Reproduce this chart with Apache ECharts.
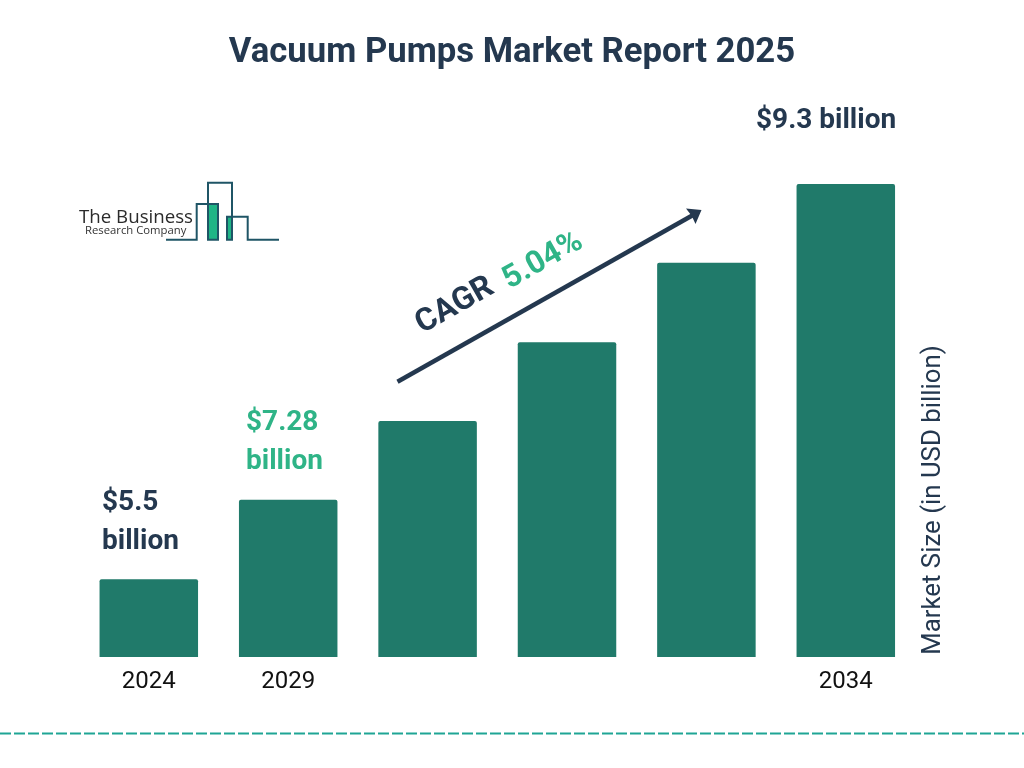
<!DOCTYPE html>
<html><head><meta charset="utf-8">
<style>html,body{margin:0;padding:0;background:#fff}#c{width:1024px;height:768px}</style>
<script src="https://cdn.jsdelivr.net/npm/echarts@6/dist/echarts.min.js"></script>
</head><body><div id="c"></div>
<script>
const categories = ['2024','2029','','','','2034'];
// bars as drawn (evenly stepped in the picture), read against the 2034 value
const drawnValues = [1.53,3.09,4.64,6.19,7.75,9.3];
const titleText = 'Vacuum Pumps Market Report 2025';
const yAxisName = 'Market Size (in USD billion)';
const navy='#24384f', green='#2fb487', barColor='#207a6a', logoLine='#1f5566', logoGreen='#1fb586';
const F='Roboto';
function txt(x,y,text,size,weight,fill,extra){
  return Object.assign({type:'text',x:x,y:y,silent:true,style:{text:text,font:weight+' '+size+'px '+F,fill:fill,align:'left',verticalAlign:'middle'}},extra||{});
}
function center(o,lh){o.style.align='center';if(lh)o.style.lineHeight=lh;return o;}
function left(o,lh){o.style.lineHeight=lh;return o;}
const chart=echarts.init(document.getElementById('c'),null,{renderer:'canvas'});
const poly=(pts,fill,stroke,w)=>({type:'polyline',silent:true,shape:{points:pts},style:{fill:fill||'none',stroke:stroke||'none',lineWidth:w||0,lineJoin:'miter'}});
chart.setOption({
  animation:false,backgroundColor:'#fff',
  grid:{left:79.1,right:108.5,top:148.4,bottom:111,containLabel:false},
  xAxis:{type:'category',data:categories,axisLine:{show:false},axisTick:{show:false},
    axisLabel:{interval:0,color:'#111',fontFamily:F,fontSize:24,margin:13}},
  yAxis:{type:'value',min:0,max:10,show:false},
  series:[{type:'bar',data:drawnValues,barWidth:98.5,itemStyle:{color:barColor,borderRadius:[2,2,0,0]}}],
  graphic:{elements:[
    center(txt(512,53,titleText,34.7,'bold',navy)),
    txt(756,121,'$9.3 billion',28,'bold',navy),
    left(txt(102,522,'$5.5\nbillion',28,'bold',navy),39),
    left(txt(246,442,'$7.28\nbillion',28,'bold',green),39),
    center(txt(933.5,500,yAxisName,25.8,'normal',navy,{rotation:Math.PI/2})),
    center(txt(455,306,'CAGR',32,'bold',navy,{rotation:0.515})),
    center(txt(543,261,'5.04%',31.5,'bold',green,{rotation:0.515})),
    {type:'line',silent:true,shape:{x1:397.5,y1:381.7,x2:694,y2:214.5},style:{stroke:navy,lineWidth:4.5}},
    poly([[701.5,210],[686,208.5],[691.8,216],[695.5,224],[701.5,210]],navy),
    {type:'line',silent:true,shape:{x1:0,y1:733.5,x2:1024,y2:733.5},style:{stroke:'#1fa595',lineWidth:2,lineDash:[11,3]}},
    {type:'rect',silent:true,shape:{x:208,y:204,width:10,height:36},style:{fill:logoGreen}},
    {type:'rect',silent:true,shape:{x:227,y:217,width:5,height:23},style:{fill:logoGreen}},
    poly([[166,239.7],[196.7,239.7],[196.7,204],[218,204],[218,239.7],[208,239.7],[208,182.7],[232,182.7],[232,239.7],[227,239.7],[227,216.7],[247.7,216.7],[247.7,239.7],[279,239.7]],null,logoLine,2),
    {type:'text',x:79,y:217.5,silent:true,style:{text:'The Business',font:'normal 18.7px "Open Sans"',fill:'#2b2b2b',verticalAlign:'middle'}},
    {type:'text',x:85,y:231,silent:true,style:{text:'Research Company',font:'normal 11.3px "Open Sans"',fill:'#333',verticalAlign:'middle'}}
  ]}
});
</script></body></html>
